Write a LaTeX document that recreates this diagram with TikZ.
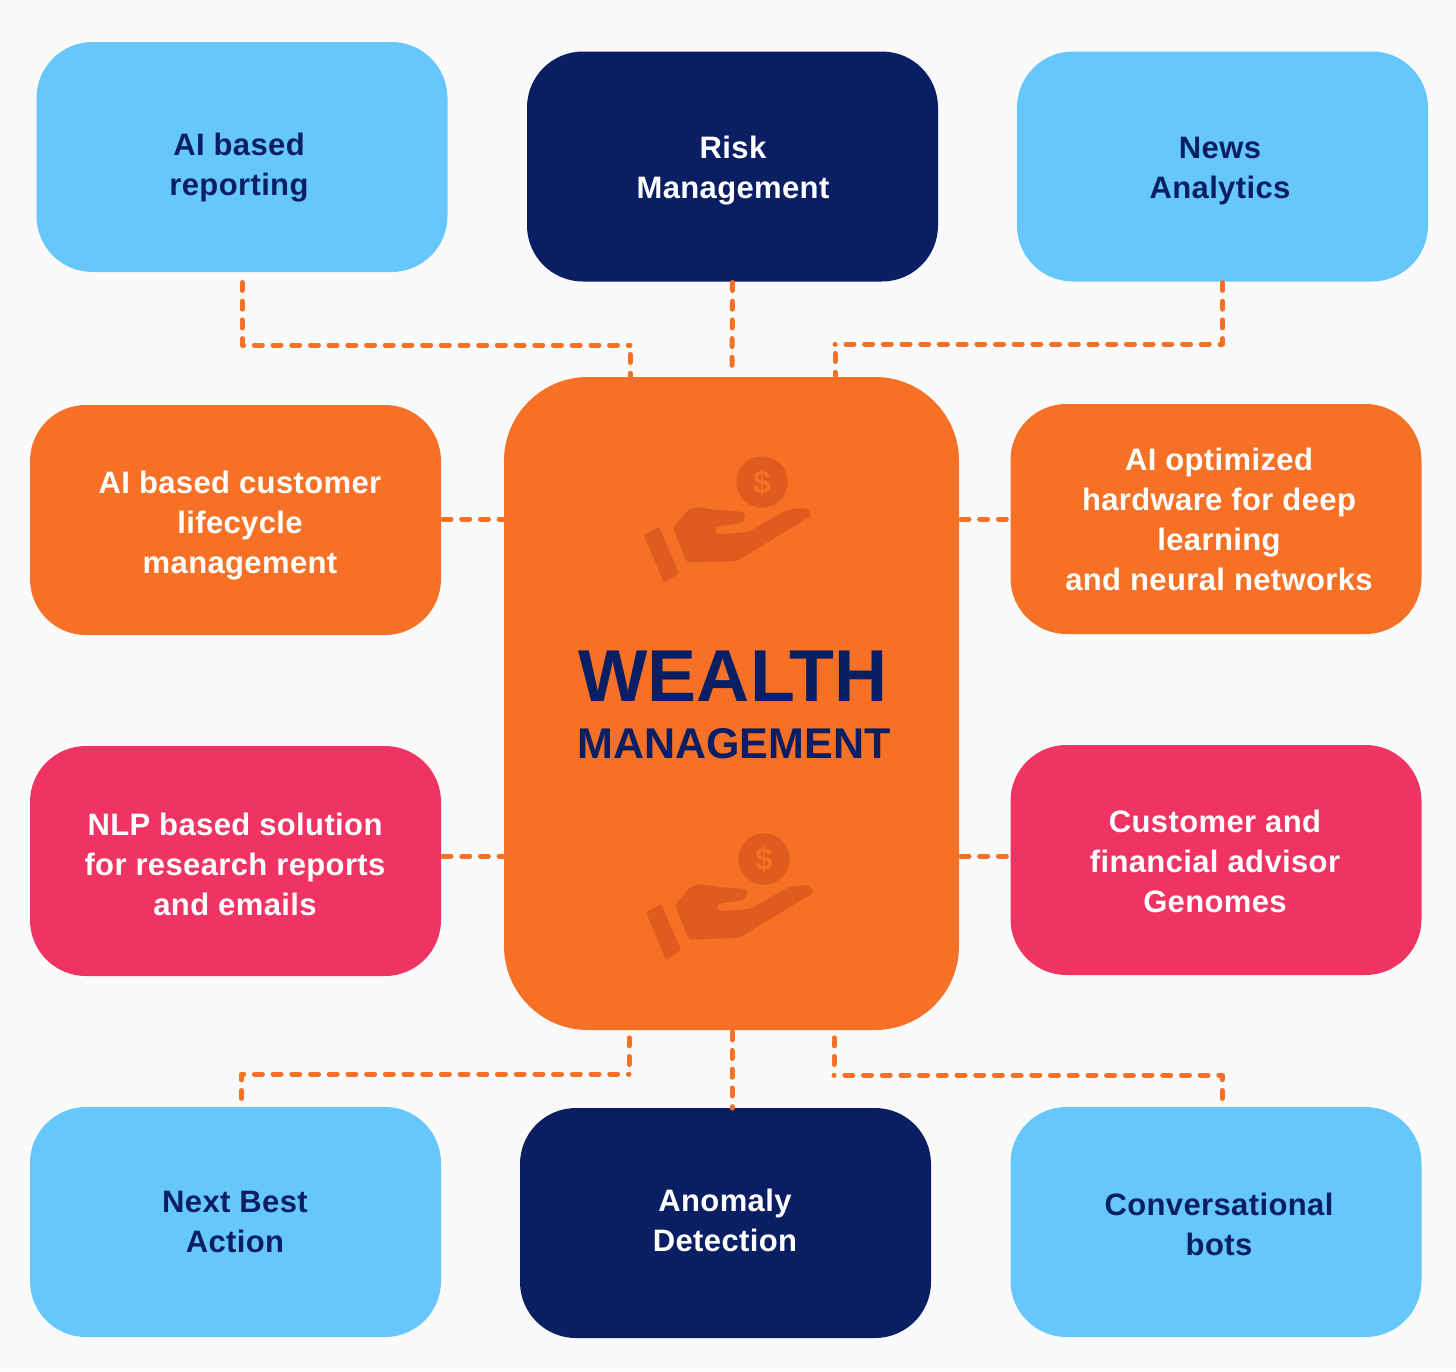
\documentclass[tikz,border=0pt]{standalone}
\usepackage{fontspec}
\setmainfont{Liberation Sans}[LetterSpace=1.2]
\newfontfamily\headfont{Liberation Sans}
\usetikzlibrary{arrows.meta,positioning}
\definecolor{wmbg}{RGB}{250,250,250}
\definecolor{wmsky}{RGB}{102,199,252}
\definecolor{wmnavy}{RGB}{10,31,99}
\definecolor{wmorange}{RGB}{246,112,38}
\definecolor{wmpink}{RGB}{239,52,99}
\definecolor{wmicon}{RGB}{222,92,30}

\begin{document}
\begin{tikzpicture}[x=1pt,y=-1pt,
        card/.style={rectangle,rounded corners=56pt,minimum width=411pt,minimum height=230pt,inner sep=0pt,outer sep=0pt},
        skycard/.style={card,fill=wmsky},
        navycard/.style={card,fill=wmnavy},
        orangecard/.style={card,fill=wmorange},
        pinkcard/.style={card,fill=wmpink},
        hubcard/.style={rectangle,rounded corners=84pt,fill=wmorange,minimum width=455pt,minimum height=653pt,inner sep=0pt,outer sep=0pt},
        cardtext/.style={align=center,font=\fontsize{31}{40}\bfseries\selectfont,inner sep=0pt},
        darktext/.style={cardtext,text=wmnavy},
        whitetext/.style={cardtext,text=white},
        link/.style={draw=wmorange,line width=5pt,line cap=round,line join=round,dash pattern=on 8pt off 10.7pt},
        handicon/.pic={
          \fill[wmicon] (762,482) circle (25.7);
          \node[text=wmorange,font=\fontsize{32}{32}\headfont\bfseries\selectfont,inner sep=0pt] (-dollar) at (762,483) {\$};
          \fill[wmicon,rounded corners=1pt] (644,535) -- (659,527) -- (679,573) -- (664,583) -- cycle;
          \fill[wmicon,rounded corners=3pt] (673,528) -- (688,510) -- (697,507) -- (717,510) -- (740,511.5)
            .. controls (746,513) and (746,522) .. (738,523.5) -- (720,526)
            .. controls (714,528) and (715,534) .. (722,534) -- (748,532) -- (787,510) -- (803,508)
            .. controls (811,510) and (812,516) .. (806,519) -- (737,561) -- (687,562.5) -- cycle;
        }]
        \fill[wmbg] (0,0) rectangle (1456,1371);
        \useasboundingbox (0,0) rectangle (1456,1371);

        % cards
        \node[skycard] (report) at (242,157) {};
        \node[navycard] (risk) at (732.5,166.5) {};
        \node[skycard] (news) at (1222.5,166.5) {};
        \node[orangecard] (lifecycle) at (235.5,520) {};
        \node[orangecard] (hardware) at (1216,519) {};
        \node[pinkcard] (nlp) at (235.5,861) {};
        \node[pinkcard] (genomes) at (1216,860) {};
        \node[skycard] (nextbest) at (235.5,1222) {};
        \node[navycard] (anomaly) at (725.5,1223) {};
        \node[skycard] (bots) at (1216,1222) {};
        \node[hubcard] (hub) at (731.5,703.5) {};

        % where the links meet the hub
        \coordinate (hubtl) at (630,377);
        \coordinate (hubtm) at (732,371);
        \coordinate (hubtr) at (835,377);
        \coordinate (hubbl) at (629,1030);
        \coordinate (hubbm) at (732,1030);
        \coordinate (hubbr) at (834,1030);
        \coordinate (bendtl) at (630,345);
        \coordinate (bendtr) at (835,344);
        \coordinate (bendbl) at (629,1074);
        \coordinate (bendbr) at (834,1075);

        \draw[link,shorten <=10.5pt] (report.south) |- (bendtl);
        \draw[link,shorten <=9.5pt] (bendtl) -- (hubtl);
        \draw[link,shorten <=1pt] (risk.south) -- (hubtm);
        \draw[link,shorten <=1pt] (news.south) |- (bendtr);
        \draw[link,shorten <=9.5pt] (bendtr) -- (hubtr);
        \draw[link,shorten <=2pt] ([yshift=1pt]lifecycle.east) -- ([yshift=1pt]lifecycle.east -| hub.west);
        \draw[link,shorten <=2pt] (hardware.west -| hub.east) -- (hardware.west);
        \draw[link,shorten <=2pt] ([yshift=5pt]nlp.east) -- ([yshift=5pt]nlp.east -| hub.west);
        \draw[link,shorten <=2pt] ([yshift=4pt]genomes.west -| hub.east) -- ([yshift=4pt]genomes.west);
        \draw[link] ([xshift=6pt,yshift=8.5pt]nextbest.north) |- (bendbl);
        \draw[link,shorten <=9.5pt,shorten >=7pt] (bendbl) -- (hubbl);
        \draw[link,shorten <=1.8pt] (hubbm) -- (732,1108);
        \draw[link] ([xshift=6pt,yshift=8.5pt]bots.north) |- (bendbr);
        \draw[link,shorten <=10.5pt,shorten >=7pt] (bendbr) -- (hubbr);

        % texts
        \node[darktext] (reporttext) at (239,168) {AI based\\reporting};
        \node[whitetext] (risktext) at (733,171) {Risk\\Management};
        \node[darktext] (newstext) at (1220,171) {News\\Analytics};
        \node[whitetext] (lifecycletext) at (240,526) {AI based customer\\lifecycle\\management};
        \node[whitetext] (hardwaretext) at (1219,519) {AI optimized\\hardware for deep\\learning\\and neural networks};
        \node[whitetext] (nlptext) at (235,864) {NLP based solution\\for research reports\\and emails};
        \node[whitetext] (genomestext) at (1215,861) {Customer and\\financial advisor\\Genomes};
        \node[darktext] (nextbesttext) at (235,1222) {Next Best\\Action};
        \node[whitetext] (anomalytext) at (725,1220) {Anomaly\\Detection};
        \node[darktext] (botstext) at (1219,1224) {Conversational\\bots};

        \node[text=wmnavy,font=\fontsize{73.5}{74}\headfont\bfseries\selectfont,inner sep=0pt] (wealth) at (733,676) {WEALTH};
        \node[text=wmnavy,font=\fontsize{43}{43}\headfont\bfseries\selectfont,inner sep=0pt] (mgmt) at (734,744) {MANAGEMENT};

        \pic (upper) at (0,0) {handicon};
        \pic (lower) at (2,377) {handicon};
      \end{tikzpicture}
\end{document}
